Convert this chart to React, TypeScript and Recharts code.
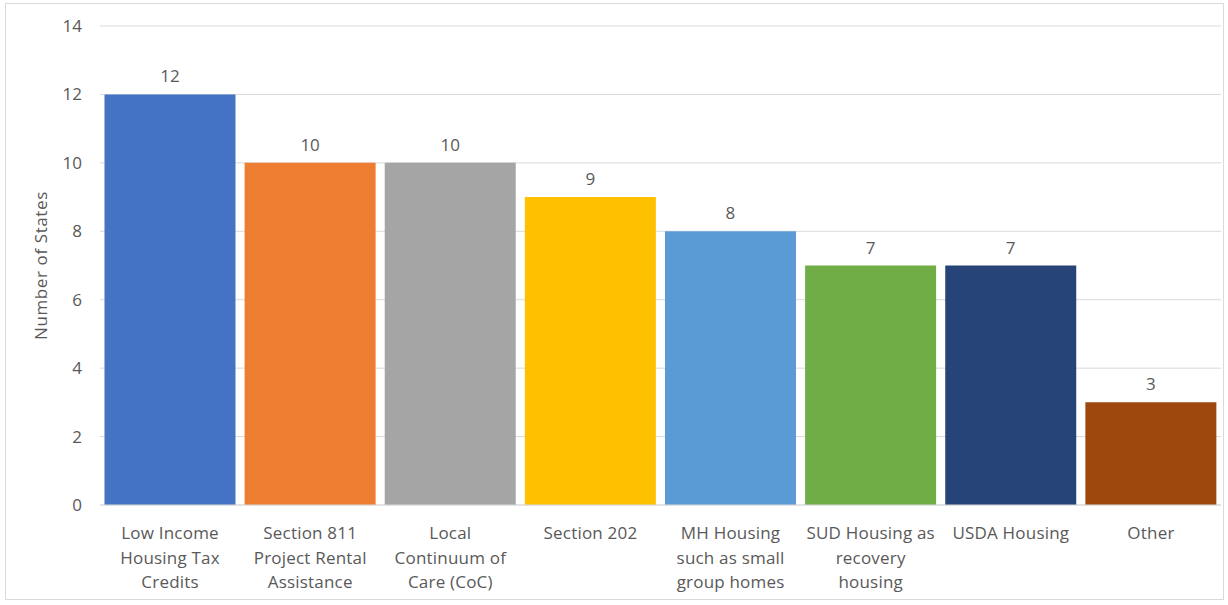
import React from "react";
import { BarChart, Bar, XAxis, YAxis, CartesianGrid, Cell, LabelList } from "recharts";

const categories = [
  "Low Income Housing Tax Credits",
  "Section 811 Project Rental Assistance",
  "Local Continuum of Care (CoC)",
  "Section 202",
  "MH Housing such as small group homes",
  "SUD Housing as recovery housing",
  "USDA Housing",
  "Other",
];

// Line breaks used for the category tick labels
const categoryLines = [
  ["Low Income", "Housing Tax", "Credits"],
  ["Section 811", "Project Rental", "Assistance"],
  ["Local", "Continuum of", "Care (CoC)"],
  ["Section 202"],
  ["MH Housing", "such as small", "group homes"],
  ["SUD Housing as", "recovery", "housing"],
  ["USDA Housing"],
  ["Other"],
];

const stateCounts = [12, 10, 10, 9, 8, 7, 7, 3];

const barColors = ["#4472C4", "#ED7D31", "#A5A5A5", "#FFC000", "#5B9BD5", "#70AD47", "#264478", "#9E480E"];

const yTicks = [0, 2, 4, 6, 8, 10, 12, 14];

const data = categories.map((name, i) => ({ name, lines: categoryLines[i], value: stateCounts[i] }));

const FONT = "'Open Sans', Lato, sans-serif";
const TEXT = "#595959";

const CategoryTick = (props: any) => {
  const { x, y, index } = props;
  const lines = categoryLines[index] || [];
  return (
    <g transform={`translate(${x},${y})`}>
      <text textAnchor="middle" fill={TEXT} fontSize={17} fontFamily={FONT} letterSpacing={0.2}>
        {lines.map((l: string, i: number) => (
          <tspan key={i} x={0} dy={i === 0 ? 26 : 24.5}>
            {l}
          </tspan>
        ))}
      </text>
    </g>
  );
};

export default function App() {
  return (
    <div style={{ position: "absolute", left: 0, top: 0, width: 1228, height: 605, background: "#fff" }}>
      <div
        style={{
          position: "absolute",
          left: 5,
          top: 3,
          width: 1219,
          height: 597,
          border: "1px solid #d9d9d9",
          boxSizing: "border-box",
        }}
      />
      <div style={{ position: "absolute", left: 0, top: 0 }}>
        <BarChart
          width={1228}
          height={605}
          data={data}
          margin={{ top: 26, right: 7, bottom: 0, left: 0 }}
          barCategoryGap="3.2%"
        >
          <CartesianGrid vertical={false} stroke="#d9d9d9" strokeWidth={1} />
          <XAxis
            dataKey="name"
            height={100}
            interval={0}
            tickLine={false}
            axisLine={{ stroke: "#d9d9d9" }}
            tick={<CategoryTick />}
          />
          <YAxis
            width={100}
            domain={[0, 14]}
            ticks={yTicks}
            tickLine={false}
            axisLine={false}
            tickSize={0}
            tickMargin={18}
            tick={{ fill: TEXT, fontSize: 17, fontFamily: FONT }}
            label={{
              value: "Number of States",
              angle: -90,
              position: "insideLeft",
              dx: 36,
              dy: 0,
              style: { textAnchor: "middle", fill: TEXT, fontSize: 17, fontFamily: FONT, letterSpacing: 0.6 },
            }}
          />
          <Bar dataKey="value" isAnimationActive={false}>
            {data.map((d, i) => (
              <Cell key={d.name} fill={barColors[i]} />
            ))}
            <LabelList
              dataKey="value"
              position="top"
              offset={12}
              fill={TEXT}
              fontSize={17}
              fontFamily={FONT}
            />
          </Bar>
        </BarChart>
      </div>
    </div>
  );
}
